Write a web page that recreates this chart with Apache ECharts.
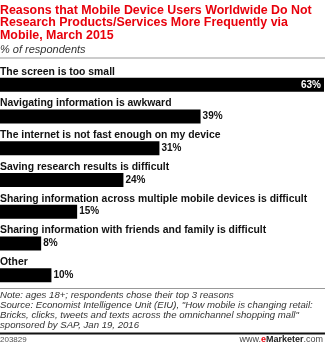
<!DOCTYPE html>
<html>
<head>
<meta charset="utf-8">
<script src="https://cdn.jsdelivr.net/npm/echarts@6/dist/echarts.min.js"></script>
<style>
  html, body { margin: 0; padding: 0; background: #fff; }
  #chart { width: 325px; height: 346px; }
</style>
</head>
<body>
<div id="chart"></div>
<script>
// Reasons for not researching via mobile, % of respondents
const categories = [
  'The screen is too small',
  'Navigating information is awkward',
  'The internet is not fast enough on my device',
  'Saving research results is difficult',
  'Sharing information across multiple mobile devices is difficult',
  'Sharing information with friends and family is difficult',
  'Other'
];
const values = [63, 39, 31, 24, 15, 8, 10];

const titleText = 'Reasons that Mobile Device Users Worldwide Do Not\nResearch Products/Services More Frequently via\nMobile, March 2015';
const subtitleText = '% of respondents';
const noteLines = [
  'Note: ages 18+; respondents chose their top 3 reasons',
  'Source: Economist Intelligence Unit (EIU), "How mobile is changing retail:',
  'Bricks, clicks, tweets and texts across the omnichannel shopping mall"',
  'sponsored by SAP, Jan 19, 2016'
];
const chartId = '203829';

const FONT = '"Liberation Sans", Arial, sans-serif';
const chart = echarts.init(document.getElementById('chart'), null, { renderer: 'canvas' });

const topIndex = values.indexOf(Math.max(...values));

chart.setOption({
  animation: false,
  backgroundColor: '#fff',
  title: {
    text: titleText,
    subtext: subtitleText,
    left: 0,
    top: 4,
    padding: 0,
    itemGap: 2,
    textStyle: {
      fontFamily: FONT, fontSize: 12.4, fontWeight: 'bold', color: '#e8000b', lineHeight: 12.5
    },
    subtextStyle: {
      fontFamily: FONT, fontSize: 11, fontStyle: 'italic', color: '#333', lineHeight: 13
    }
  },
  grid: { left: 0, right: 1, top: 69, bottom: 55, containLabel: false },
  xAxis: {
    type: 'value', min: 0, max: 63,
    show: false
  },
  yAxis: {
    type: 'category', data: categories, inverse: true,
    axisLine: { show: false }, axisTick: { show: false }, axisLabel: { show: false }
  },
  series: [
    {
      type: 'bar',
      data: values.map((v, i) => ({
        value: v,
        label: i === topIndex
          ? { position: 'insideRight', color: '#fff', distance: 3 }
          : { position: 'right', color: '#111', distance: 2 }
      })),
      barWidth: 14,
      itemStyle: { color: '#000' },
      label: {
        show: true,
        fontFamily: FONT, fontSize: 10, fontWeight: 'bold',
        formatter: p => p.value + '%'
      },
      silent: true
    },
    {
      // transparent twin bars carrying the category names above each bar
      type: 'bar',
      data: values,
      barWidth: 14,
      barGap: '-100%',
      itemStyle: { color: 'rgba(0,0,0,0)' },
      label: {
        show: true,
        position: [0, -1],
        align: 'left',
        verticalAlign: 'bottom',
        fontFamily: FONT, fontSize: 10.4, fontWeight: 'bold', color: '#111',
        formatter: p => categories[p.dataIndex]
      },
      silent: true,
      z: 3
    }
  ],
  graphic: [
    { type: 'rect', shape: { x: 0, y: 57.5, width: 325, height: 1 }, style: { fill: '#999' } },
    { type: 'rect', shape: { x: 0, y: 288, width: 325, height: 1 }, style: { fill: '#999' } },
    {
      type: 'text', left: 0, top: 290,
      style: {
        text: noteLines.join('\n'),
        font: 'italic 9.6px ' + FONT,
        fill: '#333', lineHeight: 10
      }
    },
    { type: 'rect', shape: { x: 0, y: 332.5, width: 325, height: 2 }, style: { fill: '#111' } },
    {
      type: 'text', left: 0, top: 336,
      style: { text: chartId, font: '8px ' + FONT, fill: '#555' }
    },
    {
      type: 'text', right: 2, top: 335,
      style: {
        text: '{a|www.}{e|e}{b|Marketer}{a|.com}',
        rich: {
          a: { font: '9px ' + FONT, fill: '#444' },
          e: { font: 'bold 9px ' + FONT, fill: '#e8000b' },
          b: { font: 'bold 9px ' + FONT, fill: '#222' }
        }
      }
    }
  ]
});
</script>
</body>
</html>
